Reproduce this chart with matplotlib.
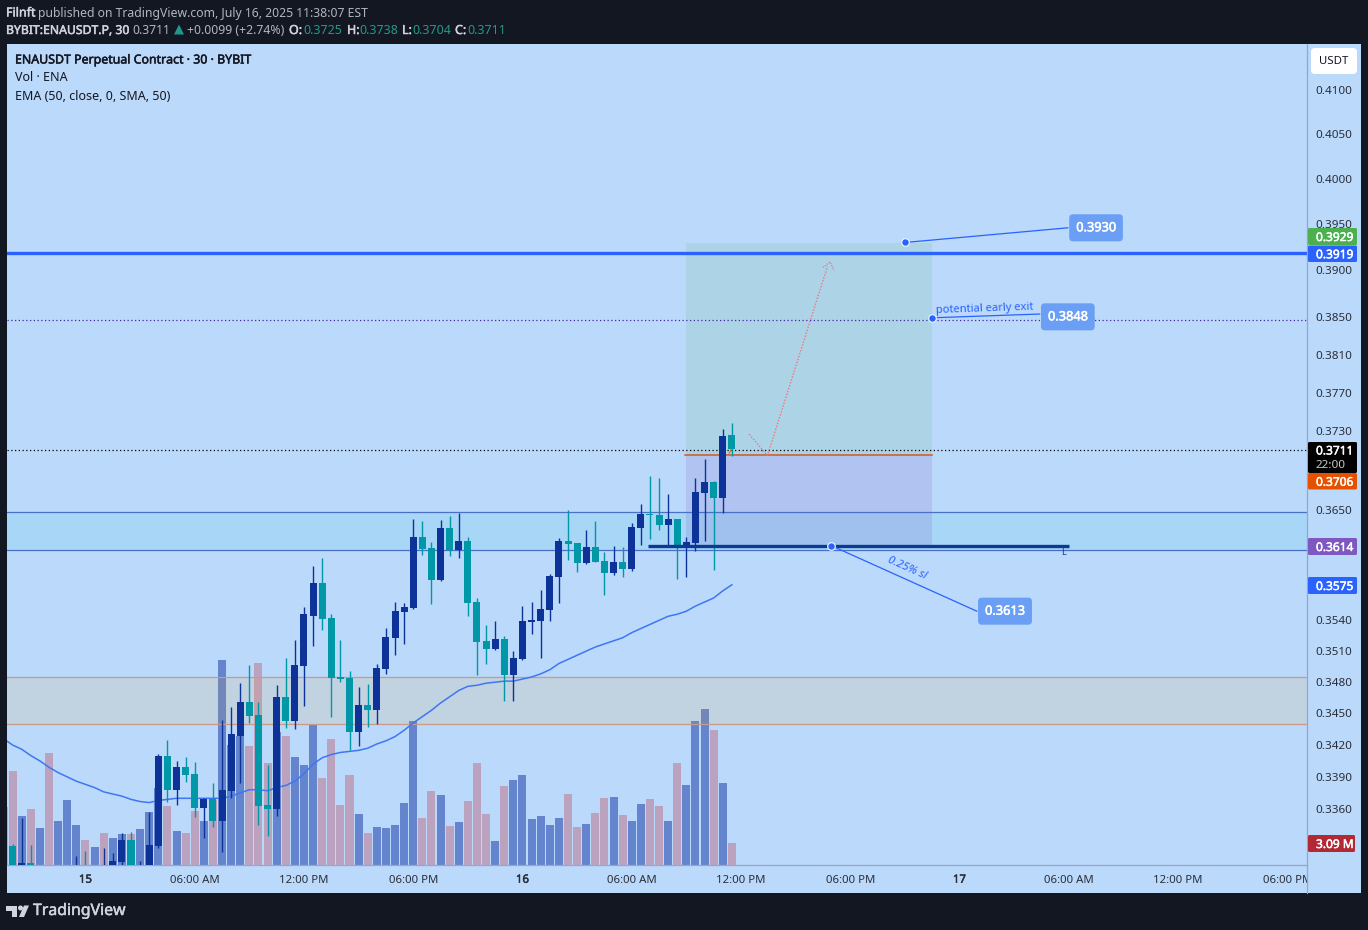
import matplotlib
matplotlib.use("Agg")
import numpy as np
import matplotlib.pyplot as plt
import matplotlib.patheffects as pe
from matplotlib.patches import Rectangle, Polygon, FancyBboxPatch
from matplotlib.ticker import NullLocator
from matplotlib.transforms import Bbox, TransformedBbox, IdentityTransform, ScaledTranslation

plt.rcParams['font.family'] = ['Noto Sans', 'DejaVu Sans']

W, H = 1368, 930

# 30 min candles, bar index 0 = 15 July 00:00
first_bar = -8
opens = [.3325, .3302, .3309, .3295, .3290, .3286, .3284, .3290, .3300, .3295, .3292, .3300, .3310, .3330, .3300, .3305,
         .3325, .3409, .3377, .3398, .3392, .3360, .3368, .3348, .3376, .3428, .3460, .3448, .3363, .3359, .3465, .3442,
         .3495, .3543, .3576, .3541, .3484, .3483, .3431, .3457, .3452, .3492, .3522, .3547, .3551, .3622, .3611, .3579,
         .3631, .3609, .3618, .3557, .3519, .3511, .3521, .3486, .3501, .3537, .3538, .3549, .3582, .3618, .3616, .3596,
         .3612, .3598, .3586, .3597, .3590, .3631, .3645, .3644, .3634, .3640, .3612, .3616, .3666, .3677, .3661, .3725]
highs = [.3327, .3351, .3326, .3302, .3300, .3296, .3295, .3316, .3320, .3305, .3323, .3318, .3337, .3338, .3311, .3356,
         .3411, .3424, .3404, .3408, .3403, .3369, .3383, .3443, .3455, .3478, .3496, .3460, .3400, .3476, .3502, .3520,
         .3552, .3593, .3601, .3545, .3520, .3490, .3474, .3477, .3497, .3532, .3557, .3556, .3640, .3638, .3617, .3639,
         .3643, .3646, .3622, .3561, .3534, .3538, .3524, .3509, .3553, .3557, .3569, .3585, .3621, .3649, .3616, .3629,
         .3638, .3607, .3613, .3612, .3636, .3655, .3683, .3681, .3665, .3640, .3622, .3681, .3701, .3678, .3731, .3738]
lows = [.3295, .3295, .3298, .3285, .3282, .3280, .3278, .3285, .3290, .3288, .3288, .3295, .3307, .3295, .3295, .3300,
        .3323, .3366, .3363, .3384, .3352, .3332, .3342, .3319, .3369, .3383, .3440, .3344, .3334, .3353, .3435, .3434,
        .3456, .3514, .3530, .3446, .3479, .3414, .3418, .3436, .3439, .3487, .3505, .3516, .3550, .3604, .3555, .3578,
        .3603, .3601, .3543, .3486, .3497, .3510, .3461, .3461, .3500, .3526, .3502, .3538, .3556, .3599, .3587, .3595,
        .3597, .3564, .3584, .3582, .3588, .3614, .3620, .3629, .3613, .3580, .3582, .3608, .3618, .3589, .3646, .3704]
closes = [.3300, .3309, .3303, .3290, .3286, .3284, .3290, .3300, .3295, .3292, .3295, .3311, .3330, .3300, .3305, .3326,
          .3409, .3377, .3398, .3391, .3360, .3368, .3348, .3377, .3429, .3460, .3447, .3362, .3359, .3465, .3442, .3496,
          .3545, .3576, .3540, .3483, .3482, .3431, .3457, .3452, .3493, .3523, .3548, .3552, .3622, .3610, .3579, .3631,
          .3609, .3618, .3556, .3518, .3511, .3521, .3486, .3502, .3538, .3539, .3550, .3583, .3618, .3615, .3596, .3612,
          .3597, .3586, .3597, .3590, .3632, .3645, .3644, .3634, .3640, .3612, .3617, .3667, .3677, .3661, .3724, .3711]

# volume in millions, starts one bar earlier than candles
vol_first_bar = -9
volume = [8.2, 13.2, 6.9, 7.9, 5.2, 15.7, 6.2, 9.1, 5.6, 3.5, 2.5, 4.5, 3.8, 4.35, 4.35, 5.05, 7.4, 10.8, 8.3, 4.8, 4.5,
          7.6, 6.2, 9.1, 28.8, 16.8, 18.1, 16.7, 28.4, 14.3, 18.7, 18.1, 15.2, 14.0, 19.7, 12.2, 17.7, 8.4, 12.6, 7.2,
          4.5, 5.3, 5.2, 5.6, 8.7, 20.2, 6.6, 10.4, 9.8, 5.5, 6.0, 9.0, 14.3, 7.2, 3.4, 11.1, 11.9, 12.6, 6.5, 6.9, 5.6,
          6.6, 10.0, 5.3, 5.8, 7.3, 9.4, 9.5, 7.0, 6.2, 8.6, 9.3, 8.3, 6.2, 14.3, 11.2, 20.2, 21.9, 19.0, 11.5, 3.09]
vol_side = "ppbpbpbbbpbpbbpbbbpbpp" "bpbbbppp" "bpbbbpppp" "bpb" "bbbb" "ppbpbppp" "bpbbbbbb" "ppbppb" "pbbpp" "bpbbbpbp"

ema_first_bar = -9
ema = [.3425, .3419, .3415, .3409, .3404, .3398, .3393, .3389, .3385, .3382, .3379, .3375, .3373, .3371, .3368, .3366,
       .3365, .3367, .3368, .3369, .3369, .3369, .3369, .3369, .3369, .3371, .3374, .3377, .3377, .3376, .3379, .3381,
       .3385, .3392, .3401, .3407, .3410, .3412, .3413, .3414, .3416, .3420, .3423, .3427, .3433, .3440, .3446, .3452,
       .3459, .3465, .3471, .3475, .3476, .3478, .3479, .3480, .3480, .3482, .3484, .3487, .3491, .3497, .3501, .3505,
       .3509, .3513, .3516, .3519, .3522, .3527, .3531, .3535, .3539, .3543, .3545, .3548, .3553, .3557, .3561, .3568, .3574]

price_ticks = [.4100, .4050, .4000, .3950, .3900, .3850, .3810, .3770, .3730, .3650, .3570, .3540, .3510, .3480, .3450, .3420, .3390, .3360]
time_ticks = [0, 12, 24, 36, 48, 60, 72, 84, 96, 108, 120, 132]
time_labels = ["15", "06:00 AM", "12:00 PM", "06:00 PM", "16", "06:00 AM", "12:00 PM", "06:00 PM", "17", "06:00 AM", "12:00 PM", "06:00 PM"]

PANE = "#bbd9fb"
DARK = "#131722"
UP = "#0d3298"
DOWN = "#0097a7"
VOL_COLORS = {"b": "#6485cd", "p": "#bba3c0"}
LINE_BLUE = "#2962ff"
XMIN, XMAX = -8.62, 134.17


def box(x0, y0, x1, y1):
    return [x0 / W, 1 - y1 / H, (x1 - x0) / W, (y1 - y0) / H]


def heavy(color, w=.35):
    # Noto Sans comes without a usable bold here, so thicken the regular face
    return [pe.withStroke(linewidth=w, foreground=color)]


def ftext(x, y, s, bold=False, **kw):
    kw.setdefault("fontsize", 8.8)
    kw.setdefault("va", "center")
    t = fig.text(x / W, 1 - y / H, s, **kw)
    if bold:
        t.set_path_effects(heavy(kw.get("color", "black")))
    return t


def tag(y0, y1, color, label, x1=1357, txt="white"):
    fig.patches.append(FancyBboxPatch((1308, H - y1), x1 - 1308, y1 - y0, boxstyle="round,pad=0,rounding_size=1.5",
                                      transform=IdentityTransform(), facecolor=color, edgecolor="none", zorder=5))
    ftext(1316, (y0 + y1) / 2 + 1, label, bold=True, color=txt, fontsize=8.6, zorder=6)


fig = plt.figure(figsize=(W / 100, H / 100), dpi=100, facecolor=DARK)
fig.patches.append(Rectangle((7 / W, 1 - 893 / H), 1354 / W, 849 / H, transform=fig.transFigure,
                             facecolor=PANE, edgecolor="none", zorder=-1))

# volume pane sits behind the candles
vax = fig.add_axes(box(7, 44, 1307, 865))
vax.set_zorder(1)
vax.patch.set_visible(False)
vol_x = np.arange(len(volume)) + vol_first_bar
vax.bar(vol_x, volume, width=0.88, color=[VOL_COLORS[s] for s in vol_side], linewidth=0)
vax.set_xlim(XMIN, XMAX)
vax.set_ylim(0, 821 / 7.12)
vax.set_xticks([])
vax.set_yticks([])
for s in vax.spines.values():
    s.set_visible(False)

ax = fig.add_axes(box(7, 44, 1307, 865))
ax.set_zorder(2)
ax.patch.set_visible(False)
ax.set_yscale("log")
ax.set_ylim(0.33074, 0.41508)
ax.set_xlim(XMIN, XMAX)

# zones
ax.axhspan(.3609, .3647, color="#00bcd4", alpha=.1, lw=0)
ax.axhline(.3647, color="#4a6fc6", lw=.9)
ax.axhline(.3609, color="#4a6fc6", lw=.9)
ax.axhspan(.3439, .3484, color="#ff9800", alpha=.1, lw=0)
ax.axhline(.3484, color="#c9998a", lw=.9)
ax.axhline(.3439, color="#c9998a", lw=.9)

# position tool
pos_left, pos_right = 66, 93
pos_target, pos_entry, pos_stop = .3928, .3705, .3613
ax.fill_between([pos_left, pos_right], pos_entry, pos_target, color="#4caf50", alpha=.12, lw=0)
ax.fill_between([pos_left, pos_right], pos_stop, pos_entry, color="#7e57c2", alpha=.17, lw=0)
ax.plot([pos_left - .2, pos_right], [pos_entry, pos_entry], color="#d2591c", lw=1.1, zorder=3)

# levels
ax.axhline(.3918, color=LINE_BLUE, lw=2.4)
ax.axhline(.3846, color="#4527a0", lw=.9, ls=(0, (1, 2)))
ax.axhline(.3710, color="black", lw=.9, ls=(0, (1, 2)))

# EMA
ema_x = np.arange(len(ema)) + ema_first_bar
ax.plot(ema_x, ema, color="#3f76f2", lw=1.1, zorder=3)

# candles
bars = np.arange(len(opens)) + first_bar
o, h, l, c = map(np.array, (opens, highs, lows, closes))
colors = np.where(c >= o, UP, DOWN)
ax.vlines(bars, l, h, colors=colors, lw=1.0, zorder=4)
ax.bar(bars, np.maximum(np.abs(c - o), .0001), bottom=np.minimum(o, c), width=0.77, color=colors, linewidth=0, zorder=4)

# stop line + drawings
ax.plot([61.8, 108], [pos_stop, pos_stop], color="#0d3a91", lw=2.4, zorder=5, solid_capstyle="butt")
ax.text(107.4, .3606, "L", color="#0d3a91", fontsize=6.5, ha="center", va="center", zorder=6)

label_bg = "#6a9ff5"
lbl = dict(boxstyle="round,pad=0.55,rounding_size=0.3", fc=label_bg, ec="none")
ax.plot([90, 107.9], [.3929, .3945], color=LINE_BLUE, lw=.9, zorder=5)
ax.plot([93, 104.8], [.3848, .3852], color=LINE_BLUE, lw=.9, zorder=5)
ax.plot([81.9, 97.9], [.3613, .3548], color=LINE_BLUE, lw=.9, zorder=5)
ax.plot([90], [.3929], "o", ms=5.5, mfc=LINE_BLUE, mec="#e6f0fd", mew=.9, zorder=6)
ax.plot([93], [.3848], "o", ms=5.5, mfc=LINE_BLUE, mec="#e6f0fd", mew=.9, zorder=6)
ax.plot([81.9], [.3613], "o", ms=5.5, mfc=LINE_BLUE, mec="#e6f0fd", mew=.9, zorder=6)
for x, p, s in [(111.0, .3945, "0.3930"), (107.9, .3849, "0.3848"), (101.0, .3548, "0.3613")]:
    ax.text(x, p, s, color="white", fontsize=9.2, ha="center", va="center", bbox=lbl, zorder=7,
            path_effects=heavy("white", .4))
ax.text(90.2, .3590, "0.25% sl", color=LINE_BLUE, fontsize=8.2, style="italic", rotation=-24, ha="center", va="center",
        rotation_mode="anchor", zorder=6)
ax.text(93.4, .3856, "potential early exit", color=LINE_BLUE, fontsize=8, rotation=2, ha="left", va="center",
        rotation_mode="anchor", zorder=6)

# dotted red path
red = "#f2757e"
ax.plot([72.9, 74.9, 81.5], [.3726, .3704, .3903], color=red, lw=1, ls=(0, (1, 1.2)), zorder=5)
ax.plot([81.0, 81.8, 82.2], [.3902, .3908, .3899], color=red, lw=.9, ls=(0, (1, 1)), zorder=5)
ax.plot([70.7, 71.2], [.3706, .3716], color="#e8742c", lw=.9, zorder=3)

# axes furniture
for name in ("left", "top"):
    ax.spines[name].set_visible(False)
for name in ("right", "bottom"):
    ax.spines[name].set_color("#8fa9c8")
    ax.spines[name].set_linewidth(.9)
ax.yaxis.tick_right()
ax.set_yticks(price_ticks, labels=["%.4f" % p for p in price_ticks])
ax.yaxis.set_minor_locator(NullLocator())
ax.tick_params(axis="y", length=0, pad=6.2, labelsize=8.4, labelcolor="#2a2e39")
down_1px = ScaledTranslation(0, -.01, fig.dpi_scale_trans)
for tick in ax.yaxis.get_major_ticks():
    tick.label2.set_transform(tick.label2.get_transform() + down_1px)
ax.set_xticks(time_ticks, labels=time_labels)
ax.tick_params(axis="x", length=0, pad=7, labelsize=8.2, labelcolor="#2a2e39")
clip = TransformedBbox(Bbox([[0, -1], [1, 1]]), ax.transAxes)
for t in ax.get_xticklabels():
    t.set_clip_on(True)
    t.set_clip_box(clip)
    if t.get_text() in ("15", "16", "17"):
        t.set_path_effects(heavy("#2a2e39"))
fig.add_artist(plt.Line2D([1307 / W, 1307 / W], [1 - 893 / H, 1 - 865 / H], color="#8fa9c8", lw=.9))

# price scale tags
tag(228, 245, "#4caf50", "0.3929")
tag(245.5, 262, LINE_BLUE, "0.3919")
tag(442, 473, "black", "")
ftext(1316, 451, "0.3711", bold=True, color="white", fontsize=8.6, zorder=6)
ftext(1316, 465, "22:00", color="#c8c8c8", fontsize=8.4, zorder=6)
tag(473, 489.5, "#e65100", "0.3706")
tag(538, 555, "#7e57c2", "0.3614")
tag(577, 594, LINE_BLUE, "0.3575")
tag(835, 852, "#b22833", "3.09 M", x1=1355)
fig.patches.append(FancyBboxPatch((1311, H - 74), 46, 26, boxstyle="round,pad=0,rounding_size=4",
                                  transform=IdentityTransform(), facecolor="white", edgecolor="none", zorder=5))
ftext(1334, 61.5, "USDT", color=DARK, ha="center", fontsize=8.2, zorder=6)

# pane legend
ftext(15, 60, "ENAUSDT Perpetual Contract · 30 · BYBIT", bold=True, color=DARK, fontsize=8.9)
ftext(15, 77.5, "Vol · ENA", color=DARK, fontsize=9)
ftext(15, 96, "EMA (50, close, 0, SMA, 50)", color=DARK, fontsize=9)

# header
HEAD = "#d1d4dc"
TEAL = "#22988b"
ftext(6, 13, "Filnft", bold=True, color=HEAD, fontsize=9)
ftext(38.5, 13, "published on TradingView.com, July 16, 2025 11:38:07 EST", color="#b2b5be")
ftext(6, 30.5, "BYBIT:ENAUSDT.P, 30", bold=True, color=HEAD, fontsize=8.8)
ftext(132, 30.5, "0.3711", color="#b2b5be")
fig.patches.append(Polygon([(174 / W, 1 - 34.5 / H), (184 / W, 1 - 34.5 / H), (179 / W, 1 - 24.5 / H)],
                           transform=fig.transFigure, facecolor=TEAL, edgecolor="none"))
ftext(187, 30.5, "+0.0099 (+2.74%)", color="#b2b5be")
for x, s in [(289, "O:"), (347, "H:"), (402, "L:"), (455, "C:")]:
    ftext(x, 30.5, s, bold=True, color=HEAD, fontsize=9)
for x, s in [(303.5, "0.3725"), (359.5, "0.3738"), (412.5, "0.3704"), (467, "0.3711")]:
    ftext(x, 30.5, s, color=TEAL, fontsize=9)

# footer logo
fig.patches.append(Polygon([(6 / W, 1 - 905.5 / H), (17 / W, 1 - 905.5 / H), (17 / W, 1 - 917 / H), (12 / W, 1 - 917 / H),
                            (12 / W, 1 - 910.5 / H), (6 / W, 1 - 910.5 / H)],
                           transform=fig.transFigure, facecolor=HEAD, edgecolor="none"))
fig.patches.append(FancyBboxPatch((18, H - 910.5), 5, 5, boxstyle="round,pad=0,rounding_size=2.5",
                                  transform=IdentityTransform(), facecolor=HEAD, edgecolor="none"))
fig.patches.append(Polygon([(24 / W, 1 - 905.5 / H), (29 / W, 1 - 905.5 / H), (24 / W, 1 - 917 / H), (19 / W, 1 - 917 / H)],
                           transform=fig.transFigure, facecolor=HEAD, edgecolor="none"))
ftext(33, 911, "TradingView", bold=True, color=HEAD, fontsize=11.4)

fig.savefig("out.png", dpi=100, facecolor=fig.get_facecolor())
